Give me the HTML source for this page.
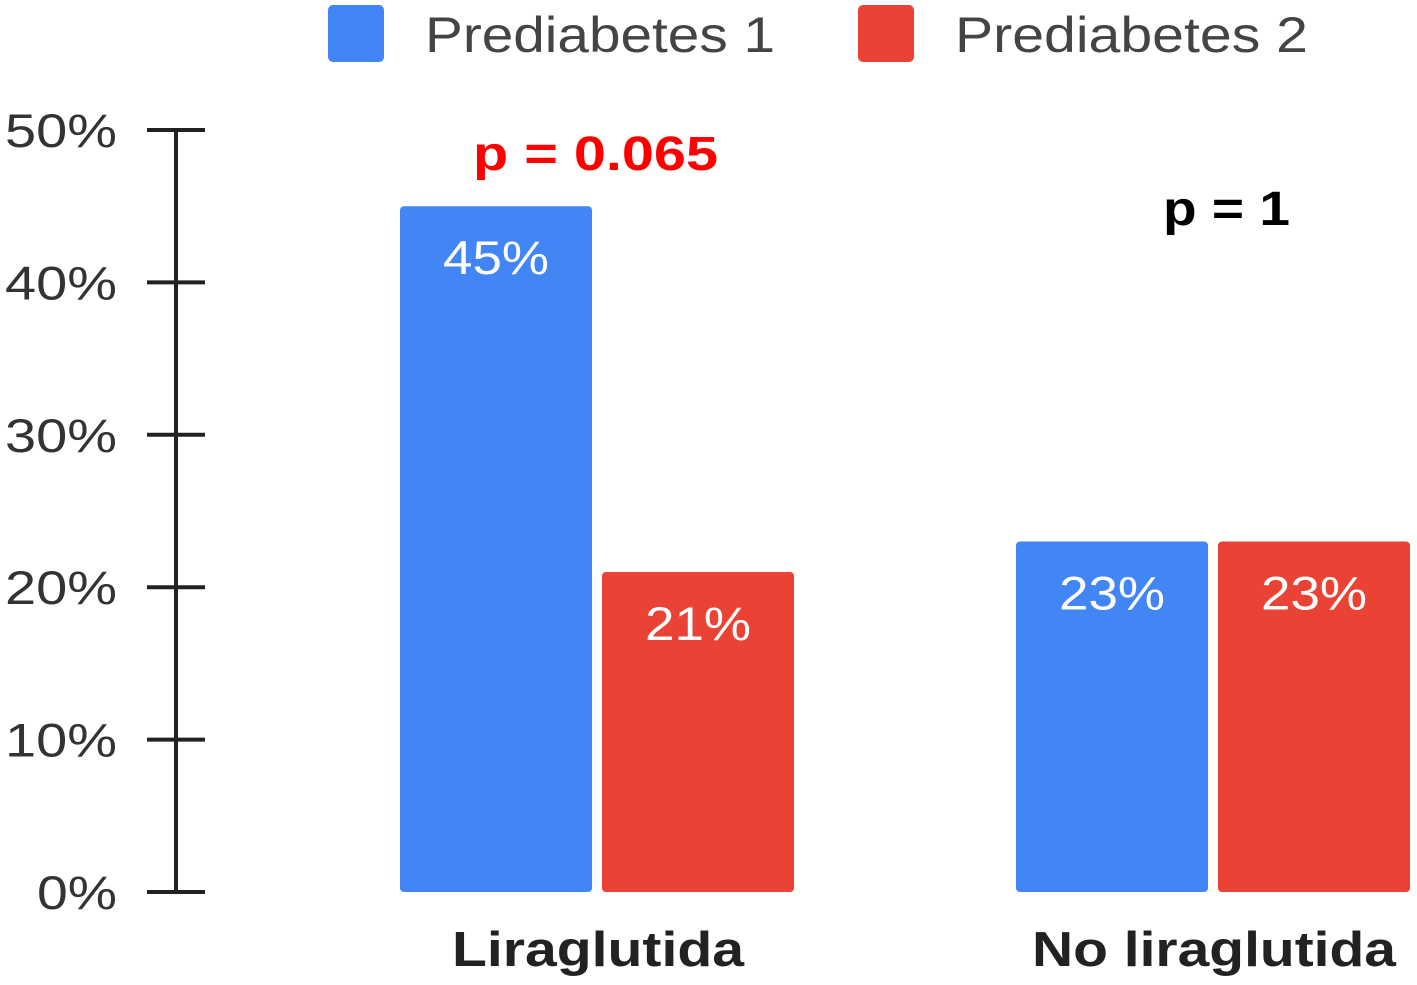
<!DOCTYPE html>
<html><head><meta charset="utf-8"><style>
html,body{margin:0;padding:0;background:#fff;width:1417px;height:985px;overflow:hidden}
svg{display:block}
text{font-family:"Liberation Sans",Arial,sans-serif}
</style></head><body>
<svg id="chart" width="1417" height="985">
  <g>
    <rect x="328" y="5" width="56" height="57" rx="5" fill="#4285F4"/>
    <text x="425" y="52" font-size="50" fill="#444" textLength="350" lengthAdjust="spacingAndGlyphs">Prediabetes 1</text>
    <rect x="858" y="5" width="56" height="57" rx="5" fill="#EA4335"/>
    <text x="955" y="52" font-size="50" fill="#444" textLength="353" lengthAdjust="spacingAndGlyphs">Prediabetes 2</text>
  </g>
  <g id="axis"></g>
  <g id="bars"></g>
  <text x="473" y="170" font-size="48" font-weight="bold" fill="#ff0000" textLength="245" lengthAdjust="spacingAndGlyphs">p = 0.065</text>
  <text x="1163" y="225" font-size="48" font-weight="bold" fill="#000" textLength="127" lengthAdjust="spacingAndGlyphs">p = 1</text>
</svg>
<script>
const categories = ["Liraglutida", "No liraglutida"];
const series1 = [45, 23];
const series2 = [21, 23];
const tickValues = [0, 10, 20, 30, 40, 50];
const tickLabels = ["0%", "10%", "20%", "30%", "40%", "50%"];

const NS = "http://www.w3.org/2000/svg";
const y0 = 892, y50 = 130;
function yScale(v){ return y0 - (v/50)*(y0-y50); }
const groupCenters = [597, 1213];
function xBar(ci, si){ return groupCenters[ci] - 197 + si*202; }
const barW = 192;

const axis = document.getElementById('axis');
const line = document.createElementNS(NS,'line');


line.setAttribute('x1',176);line.setAttribute('x2',176);
line.setAttribute('y1',yScale(50));line.setAttribute('y2',yScale(0));
line.setAttribute('stroke','#222');line.setAttribute('stroke-width',4);
axis.appendChild(line);
tickValues.forEach((v,i)=>{
  const t = document.createElementNS(NS,'line');
  
  
  t.setAttribute('x1',147);t.setAttribute('x2',205);
  t.setAttribute('y1',yScale(v));t.setAttribute('y2',yScale(v));
  t.setAttribute('stroke','#222');t.setAttribute('stroke-width',4);
  axis.appendChild(t);
  const l = document.createElementNS(NS,'text');
  
  
  const w = tickLabels[i].length === 2 ? 80 : 112;
  l.setAttribute('x',117 - w);l.setAttribute('y',yScale(v)+17);
  l.setAttribute('font-size','47');
  l.setAttribute('textLength', w);
  l.setAttribute('lengthAdjust','spacingAndGlyphs');
  l.setAttribute('fill','#333');
  l.textContent = tickLabels[i];
  axis.appendChild(l);
});

const bars = document.getElementById('bars');
const colors = ["#4285F4","#EA4335"];
[series1, series2].forEach((s,si)=>{
  s.forEach((v,ci)=>{
    const r = document.createElementNS(NS,'rect');
    
    
    const x = xBar(ci,si), y = yScale(v);
    r.setAttribute('x',x);r.setAttribute('y',y);
    r.setAttribute('width',barW);r.setAttribute('height',y0-y);
    r.setAttribute('rx',4);r.setAttribute('fill',colors[si]);
    bars.appendChild(r);
    const t = document.createElementNS(NS,'text');
    
    
    t.setAttribute('x',x+barW/2-53);t.setAttribute('y',y+68);
    t.setAttribute('font-size','47');
    t.setAttribute('textLength',106);
    t.setAttribute('lengthAdjust','spacingAndGlyphs');
    t.setAttribute('fill','#fff');
    t.textContent = v+'%';
    bars.appendChild(t);
  });
});
const catWidths = [292, 364];
categories.forEach((c,ci)=>{
  const t = document.createElementNS(NS,'text');
  
  
  t.setAttribute('x',groupCenters[ci]-catWidths[ci]/2+1);t.setAttribute('y',966);
  t.setAttribute('font-size','49');
  t.setAttribute('textLength',catWidths[ci]);
  t.setAttribute('lengthAdjust','spacingAndGlyphs');
  t.setAttribute('font-weight','bold');t.setAttribute('fill','#222');
  t.textContent = c;
  bars.appendChild(t);
});
</script>
</body></html>
